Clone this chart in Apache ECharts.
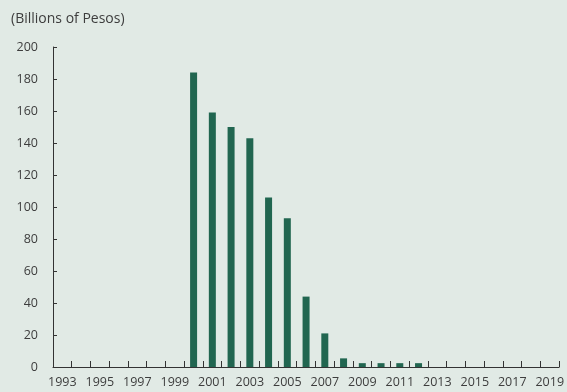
<!DOCTYPE html>
<html>
<head>
<meta charset="utf-8">
<script src="https://cdn.jsdelivr.net/npm/echarts@6/dist/echarts.min.js"></script>
<style>
  html, body { margin: 0; padding: 0; background: #e1eae5; }
  #chart { width: 567px; height: 392px; }
</style>
</head>
<body>
<div id="chart"></div>
<script>
// Years shown along the horizontal axis
const years = [
  '1993','1994','1995','1996','1997','1998','1999','2000','2001','2002',
  '2003','2004','2005','2006','2007','2008','2009','2010','2011','2012',
  '2013','2014','2015','2016','2017','2018','2019'
];
// Outstanding amount per year, billions of pesos
const amounts = [
  0, 0, 0, 0, 0, 0, 0, 184, 159, 150,
  143, 106, 93, 44, 21, 5.4, 2.4, 2.4, 2.4, 2.4,
  0, 0, 0, 0, 0, 0, 0
];
const yMin = 0, yMax = 200, yStep = 20;
const unitLabel = '(Billions of Pesos)';

const chart = echarts.init(document.getElementById('chart'), null, { renderer: 'canvas' });
const fontFamily = '"Open Sans", "Noto Sans", sans-serif';
const textColor = '#3d3d3d';

chart.setOption({
  backgroundColor: '#e1eae5',
  animation: false,
  title: {
    text: unitLabel,
    left: 6,
    top: 7,
    textStyle: { fontFamily, fontSize: 14, fontWeight: 'normal', color: textColor }
  },
  grid: { left: 53, right: 5, top: 47, bottom: 25, containLabel: false },
  xAxis: {
    type: 'category',
    data: years,
    boundaryGap: true,
    axisLine: { lineStyle: { color: '#333', width: 1 } },
    axisTick: { show: true, inside: true, length: 6, interval: 0, lineStyle: { color: '#333' } },
    axisLabel: { interval: 1, color: textColor, fontFamily, fontSize: 12.5, margin: 9 },
    splitLine: { show: false }
  },
  yAxis: {
    type: 'value',
    min: yMin,
    max: yMax,
    interval: yStep,
    axisLine: { show: true, lineStyle: { color: '#333', width: 1 } },
    axisTick: { show: true, inside: true, length: 4, lineStyle: { color: '#333' } },
    axisLabel: { color: textColor, fontFamily, fontSize: 12.5, margin: 15 },
    splitLine: { show: false }
  },
  series: [{
    type: 'bar',
    data: amounts,
    barWidth: 7,
    itemStyle: { color: '#216650' }
  }]
});
</script>
</body>
</html>
